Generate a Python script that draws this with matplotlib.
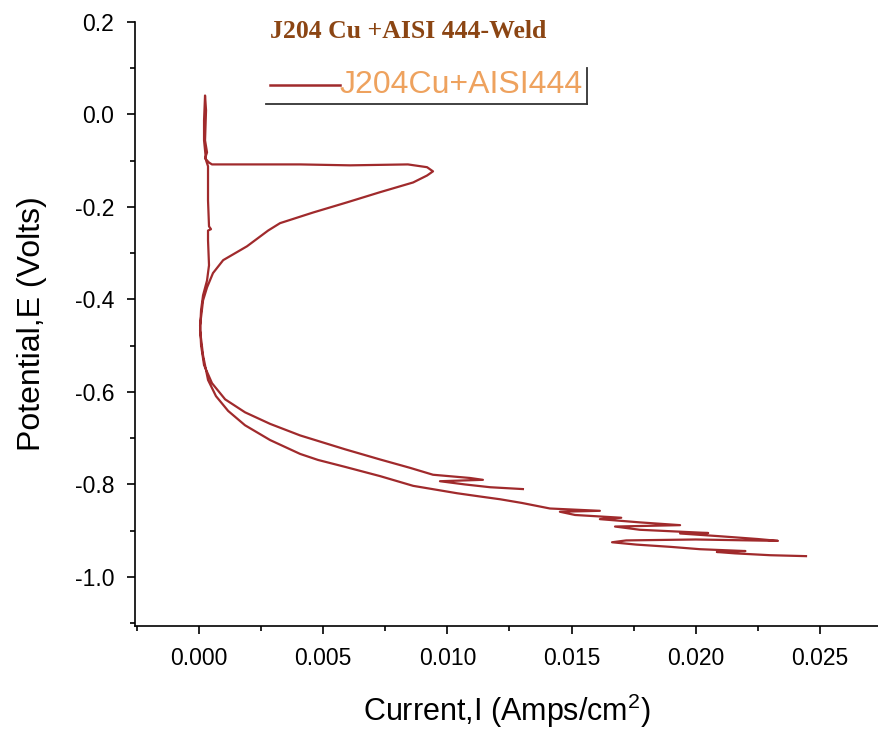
import numpy as np
import matplotlib.pyplot as plt
from matplotlib.ticker import MultipleLocator, FormatStrFormatter

plt.rcParams['mathtext.fontset'] = 'custom'
plt.rcParams['mathtext.rm'] = 'Liberation Sans'

# polarisation scan, in scan order (current A/cm2, potential V)
# cathodic branch ending at the lowest potential
lower_i = [0.02444, 0.02300, 0.02158, 0.02085, 0.02200, 0.02017, 0.01900, 0.01760,
           0.01663, 0.01720, 0.02000, 0.02331, 0.02250, 0.02098, 0.01937, 0.02050,
           0.01775, 0.01675, 0.01937, 0.01775, 0.01614, 0.01700, 0.01514, 0.01453,
           0.01614, 0.01413, 0.01300, 0.01212, 0.01131, 0.01039, 0.00862, 0.00729,
           0.00588, 0.00479, 0.00407, 0.00286, 0.00185, 0.00117, 0.00068, 0.00036,
           0.00016, 0.00004]
lower_e = [-0.955, -0.953, -0.949, -0.946, -0.944, -0.940, -0.935, -0.930,
           -0.925, -0.921, -0.919, -0.922, -0.918, -0.912, -0.906, -0.905,
           -0.898, -0.891, -0.888, -0.882, -0.875, -0.872, -0.866, -0.859,
           -0.857, -0.852, -0.840, -0.832, -0.826, -0.819, -0.803, -0.782,
           -0.762, -0.747, -0.734, -0.704, -0.672, -0.641, -0.609, -0.574,
           -0.521, -0.467]
# passive region up to the top of the scan
passive_i = [0.00008, 0.00016, 0.00032, 0.00040, 0.00036, 0.00036, 0.00048, 0.00040,
             0.00036, 0.00036, 0.00028, 0.00020, 0.00020, 0.00024]
passive_e = [-0.423, -0.391, -0.359, -0.326, -0.272, -0.251, -0.248, -0.242,
             -0.186, -0.112, -0.099, -0.056, -0.013, 0.041]
# reverse: spike, horizontal jump, nose and return curve
reverse_i = [0.00028, 0.00024, 0.00032, 0.00024, 0.00040, 0.00052, 0.00407, 0.00608,
             0.00841, 0.00918, 0.00942, 0.00918, 0.00862, 0.00729, 0.00596, 0.00459,
             0.00326, 0.00278, 0.00193, 0.00097, 0.00056, 0.00032, 0.00016, 0.00004,
             0.00008, 0.00020, 0.00052]
reverse_e = [0.009, -0.056, -0.082, -0.095, -0.104, -0.108, -0.108, -0.110,
             -0.108, -0.114, -0.123, -0.132, -0.147, -0.168, -0.190, -0.212,
             -0.235, -0.251, -0.285, -0.315, -0.343, -0.374, -0.402, -0.456,
             -0.499, -0.542, -0.581]
# second cathodic branch, ends higher
upper_i = [0.00105, 0.00185, 0.00286, 0.00407, 0.00588, 0.00729, 0.00849, 0.00942,
           0.01091, 0.01143, 0.00970, 0.01071, 0.01172, 0.01304]
upper_e = [-0.616, -0.644, -0.669, -0.694, -0.724, -0.746, -0.764, -0.779,
           -0.786, -0.790, -0.793, -0.800, -0.806, -0.810]

current = lower_i + passive_i + reverse_i + upper_i
potential = lower_e + passive_e + reverse_e + upper_e

line_col = '#a02a2c'

fig = plt.figure(figsize=(8.79, 7.30), dpi=100)
ax = fig.add_axes([0.1536, 0.1425, 0.8464, 0.8274])

ax.plot(current, potential, color=line_col, lw=1.6)

ax.set_xlim(-0.00258, 0.02738)
ax.set_ylim(-1.106, 0.2)

ax.spines['top'].set_visible(False)
ax.spines['right'].set_visible(False)
for s in ['left', 'bottom']:
    ax.spines[s].set_linewidth(1.2)

ax.xaxis.set_major_locator(MultipleLocator(0.005))
ax.xaxis.set_minor_locator(MultipleLocator(0.0025))
ax.yaxis.set_major_locator(MultipleLocator(0.2))
ax.yaxis.set_minor_locator(MultipleLocator(0.1))
ax.xaxis.set_major_formatter(FormatStrFormatter('%.3f'))
ax.yaxis.set_major_formatter(FormatStrFormatter('%.1f'))
ax.tick_params(which='major', direction='out', length=6, width=1.2, labelsize=16.5, pad=9)
ax.tick_params(which='minor', direction='out', length=3.5, width=1.2)
for lab in ax.get_xticklabels() + ax.get_yticklabels():
    lab.set_family('Liberation Sans')

ax.set_xlabel('Current,I (Amps/cm$^2$)', fontsize=22, family='Liberation Sans', labelpad=16)
ax.set_ylabel('Potential,E (Volts)', fontsize=23, family='Liberation Sans', labelpad=20)

# title inside the figure
fig.text(408 / 879, 1 - 32 / 730, 'J204 Cu +AISI 444-Weld', ha='center', va='center',
         fontsize=18.5, fontweight='bold', family='Liberation Serif', color='#8b4513')

# legend drawn by hand: line, text, and the two frame edges
fig.add_artist(plt.Line2D([270 / 879, 340 / 879], [1 - 85 / 730] * 2,
                          color=line_col, lw=1.8))
fig.text(340 / 879, 1 - 85 / 730, 'J204Cu+AISI444', ha='left', va='center',
         fontsize=23, family='Liberation Sans', color='#eea25e')
fig.add_artist(plt.Line2D([266 / 879, 587 / 879], [1 - 104 / 730] * 2,
                          color='#333333', lw=1.3))
fig.add_artist(plt.Line2D([587 / 879, 587 / 879], [1 - 104 / 730, 1 - 68 / 730],
                          color='#333333', lw=1.3))

fig.savefig('out.png', dpi=100)
